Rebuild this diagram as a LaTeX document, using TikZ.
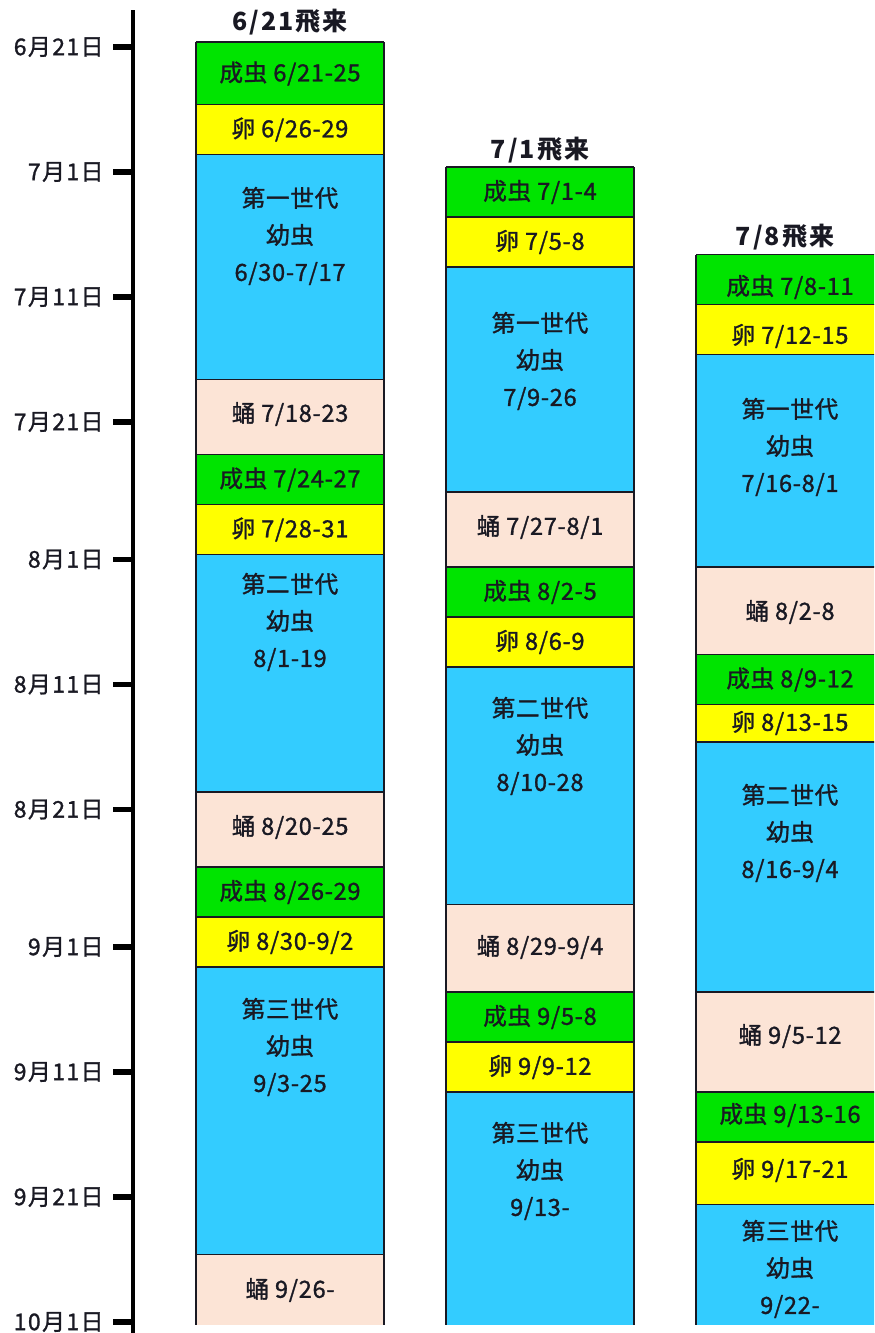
\documentclass[tikz,border=0pt]{standalone}
\usepackage{fontspec}
\setmainfont{Noto Sans CJK JP}
\newfontfamily\boxfont[FakeBold=1.2,LetterSpace=3]{Noto Sans CJK JP}
\newfontfamily\dayfont[FakeBold=1.2,LetterSpace=6]{Noto Sans CJK JP}
\newfontfamily\titlefont[LetterSpace=8]{Noto Sans CJK JP}
\definecolor{adultc}{RGB}{0,228,0}
\definecolor{eggc}{RGB}{255,255,0}
\definecolor{larvac}{RGB}{51,204,255}
\definecolor{pupac}{RGB}{252,228,214}
\definecolor{inkc}{RGB}{25,25,35}
\tikzset{
  edge/.style={draw=inkc, line width=0.8pt},
  lbl/.style={text=inkc, font=\boxfont\fontsize{11.8}{18.5}\selectfont, align=center, inner sep=0pt},
  ttl/.style={text=inkc, font=\titlefont\bfseries\fontsize{12.5}{14}\selectfont, inner sep=0pt},
  daylbl/.style={text=inkc, font=\dayfont\fontsize{11.5}{13}\selectfont, anchor=east, inner sep=0pt},
  axisline/.style={draw=black, line width=2pt},
  tickline/.style={draw=black, line width=2.8pt},
}
\newcommand\stagebox[7]{%
  \fill[#5] (#2,#3) rectangle (#2+188,#4);
  \draw[edge] (#2,#3) -- (#2+188,#3);
  \node[lbl] (#1) at (#2+94,#7) {#6};
}
\begin{document}
\begin{tikzpicture}[x=0.5pt,y=-0.5pt]
\useasboundingbox (0,0) rectangle (874,1333);
\clip (0,0) rectangle (874,1333);

% time axis
\draw[axisline] (133,10) -- (133,1333);
\foreach \n/\y/\t in {1/47/6月21日, 2/172/7月1日, 3/297/7月11日, 4/422/7月21日, 5/559.5/8月1日, 6/684.5/8月11日, 7/809.5/8月21日, 8/947/9月1日, 9/1072/9月11日, 10/1197/9月21日, 11/1322/10月1日}{
  \draw[tickline] (113,\y) -- (133,\y);
  \node[daylbl] (day\n) at (104,\y) {\t};
}

% column 1
\node[ttl] (t1) at (290,22) {6/21飛来};
\stagebox{a1}{196}{42}{104.5}{adultc}{成虫 6/21-25}{73.5}
\stagebox{e1}{196}{104.5}{154.5}{eggc}{卵 6/26-29}{129.5}
\stagebox{l1}{196}{154.5}{379.5}{larvac}{第一世代\\幼虫\\6/30-7/17}{236}
\stagebox{p1}{196}{379.5}{454.5}{pupac}{蛹 7/18-23}{414}
\stagebox{a2}{196}{454.5}{504.5}{adultc}{成虫 7/24-27}{479.5}
\stagebox{e2}{196}{504.5}{554.5}{eggc}{卵 7/28-31}{529.5}
\stagebox{l2}{196}{554.5}{792}{larvac}{第二世代\\幼虫\\8/1-19}{622}
\stagebox{p2}{196}{792}{867}{pupac}{蛹 8/20-25}{827}
\stagebox{a3}{196}{867}{917}{adultc}{成虫 8/26-29}{892}
\stagebox{e3}{196}{917}{967}{eggc}{卵 8/30-9/2}{942}
\stagebox{l3}{196}{967}{1254.5}{larvac}{第三世代\\幼虫\\9/3-25}{1047}
\stagebox{p3}{196}{1254.5}{1325}{pupac}{蛹 9/26-}{1290}
\draw[edge] (196,42) -- (196,1325);
\draw[edge] (384,42) -- (384,1325);

% column 2
\node[ttl] (t2) at (540,150) {7/1飛来};
\stagebox{b1}{446}{167}{217}{adultc}{成虫 7/1-4}{192}
\stagebox{f1}{446}{217}{267}{eggc}{卵 7/5-8}{242}
\stagebox{m1}{446}{267}{492}{larvac}{第一世代\\幼虫\\7/9-26}{361}
\stagebox{q1}{446}{492}{567}{pupac}{蛹 7/27-8/1}{527}
\stagebox{b2}{446}{567}{617}{adultc}{成虫 8/2-5}{592}
\stagebox{f2}{446}{617}{667}{eggc}{卵 8/6-9}{642}
\stagebox{m2}{446}{667}{904.5}{larvac}{第二世代\\幼虫\\8/10-28}{746}
\stagebox{q2}{446}{904.5}{992}{pupac}{蛹 8/29-9/4}{947}
\stagebox{b3}{446}{992}{1042}{adultc}{成虫 9/5-8}{1017}
\stagebox{f3}{446}{1042}{1092}{eggc}{卵 9/9-12}{1067}
\stagebox{m3}{446}{1092}{1325}{larvac}{第三世代\\幼虫\\9/13-}{1171}
\draw[edge] (446,167) -- (446,1325);
\draw[edge] (634,167) -- (634,1325);

% column 3
\node[ttl] (t3) at (785,237) {7/8飛来};
\stagebox{c1}{696}{254.5}{304.5}{adultc}{成虫 7/8-11}{287}
\stagebox{g1}{696}{304.5}{354.5}{eggc}{卵 7/12-15}{336}
\stagebox{n1}{696}{354.5}{567}{larvac}{第一世代\\幼虫\\7/16-8/1}{447}
\stagebox{r1}{696}{567}{654.5}{pupac}{蛹 8/2-8}{612}
\stagebox{c2}{696}{654.5}{704.5}{adultc}{成虫 8/9-12}{679.5}
\stagebox{g2}{696}{704.5}{742}{eggc}{卵 8/13-15}{723}
\stagebox{n2}{696}{742}{992}{larvac}{第二世代\\幼虫\\8/16-9/4}{833}
\stagebox{r2}{696}{992}{1092}{pupac}{蛹 9/5-12}{1036}
\stagebox{c3}{696}{1092}{1142}{adultc}{成虫 9/13-16}{1115}
\stagebox{g3}{696}{1142}{1204.5}{eggc}{卵 9/17-21}{1170}
\stagebox{n3}{696}{1204.5}{1325}{larvac}{第三世代\\幼虫\\9/22-}{1269}
\draw[edge] (696,254.5) -- (696,1325);
\end{tikzpicture}
\end{document}
